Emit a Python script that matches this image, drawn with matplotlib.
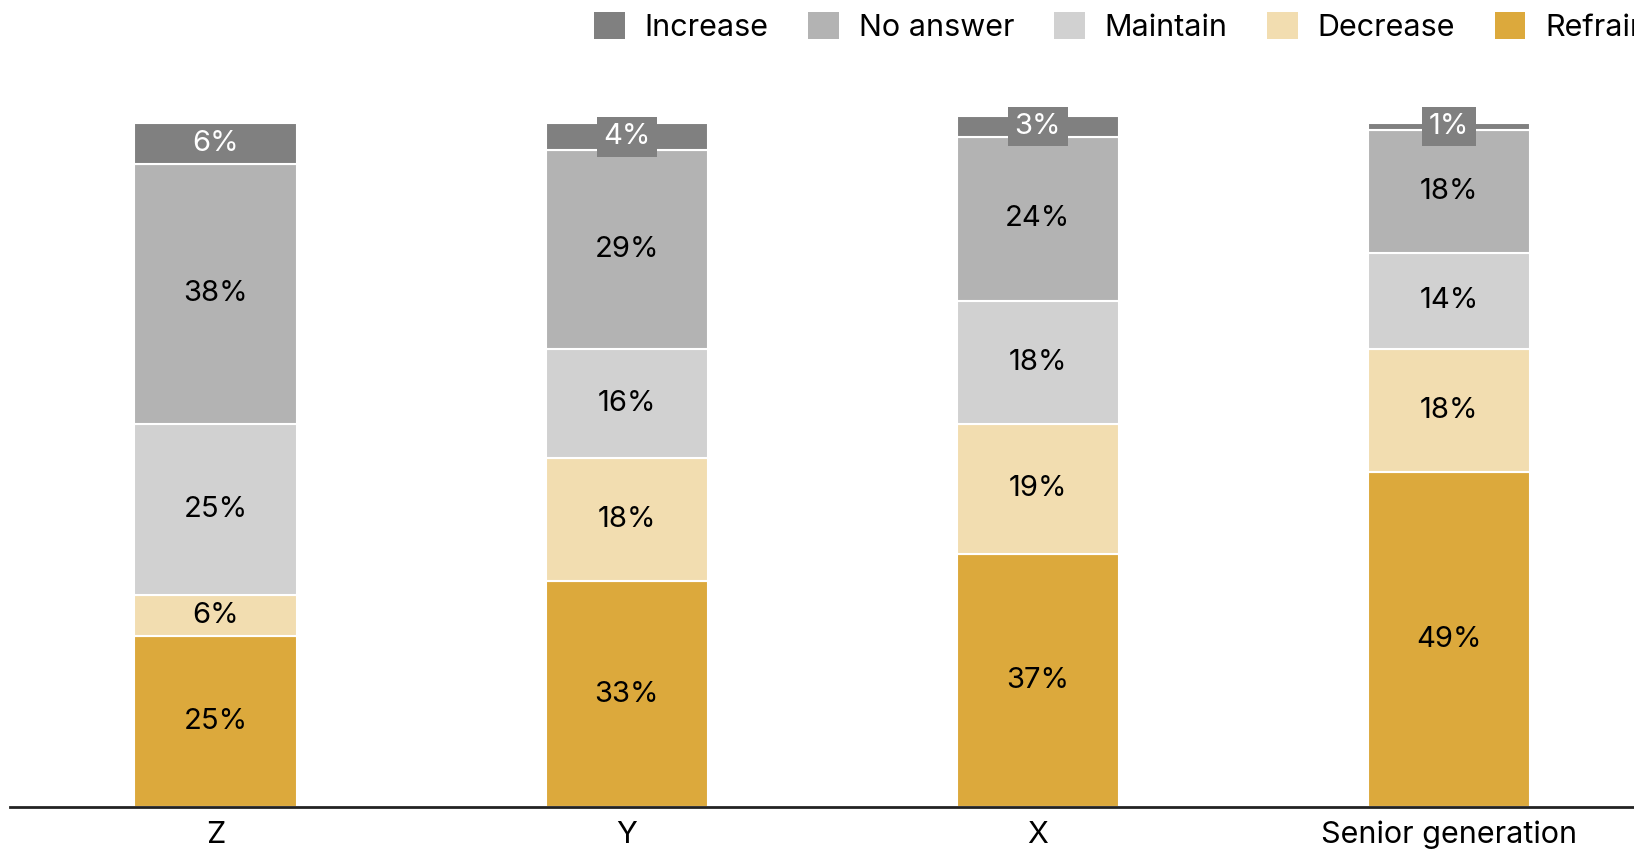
import matplotlib
matplotlib.use("Agg")
import matplotlib.pyplot as plt
from matplotlib.patches import Patch

plt.rcParams['font.family'] = ['Inter', 'DejaVu Sans']

groups = ["Z", "Y", "X", "Senior generation"]
# stacked bottom to top
series = ["Refrain", "Decrease", "Maintain", "No answer", "Increase"]
refrain = [25, 33, 37, 49]
decrease = [6, 18, 19, 18]
maintain = [25, 16, 18, 14]
no_answer = [38, 29, 24, 18]
increase = [6, 4, 3, 1]

values = [refrain, decrease, maintain, no_answer, increase]
colors = ["#dca93c", "#f2ddb0", "#d1d1d1", "#b3b3b3", "#808080"]
text_colors = ["black", "black", "black", "black", "white"]

fig = plt.figure(figsize=(16.34, 8.52), dpi=100)
ax = fig.add_axes([10 / 1634, 45 / 852, 1 - 10 / 1634, 684 / 852])

x = list(range(len(groups)))
bottom = [0] * len(groups)
for name, vals, col, tcol in zip(series, values, colors, text_colors):
    ax.bar(x, vals, bottom=bottom, width=0.395, color=col,
           edgecolor="white", linewidth=1.5, clip_on=False, label=name)
    for i, v in enumerate(vals):
        y = bottom[i] + v / 2
        # thin segments get a tag so the label stays readable
        box = None
        if v < 5:
            box = dict(boxstyle="square,pad=0.22", facecolor=col, edgecolor="none")
        ax.text(x[i], y, f"{v}%", ha="center", va="center", fontsize=21,
                color=tcol, bbox=box)
    bottom = [b + v for b, v in zip(bottom, vals)]

ax.set_xlim(-0.5, 3.45)
ax.set_ylim(0, 100)
ax.set_xticks(x)
ax.set_xticklabels(groups, fontsize=22)
ax.tick_params(axis="x", length=0, pad=10)
ax.set_yticks([])
for side in ["top", "right", "left"]:
    ax.spines[side].set_visible(False)
ax.spines["bottom"].set_linewidth(2)
ax.spines["bottom"].set_color("#222222")

# legend order: top segment first; it runs past the right edge
handles = [Patch(facecolor=c, edgecolor="none") for c in colors[::-1]]
fig.legend(handles, series[::-1], loc="upper left",
           bbox_to_anchor=(576 / 1634, 1.008), ncol=5, frameon=False,
           prop={"size": 22}, handlelength=1.0, handleheight=1.0,
           handletextpad=0.65, columnspacing=1.3, borderaxespad=0.2)

fig.savefig("out.png", dpi=100)
